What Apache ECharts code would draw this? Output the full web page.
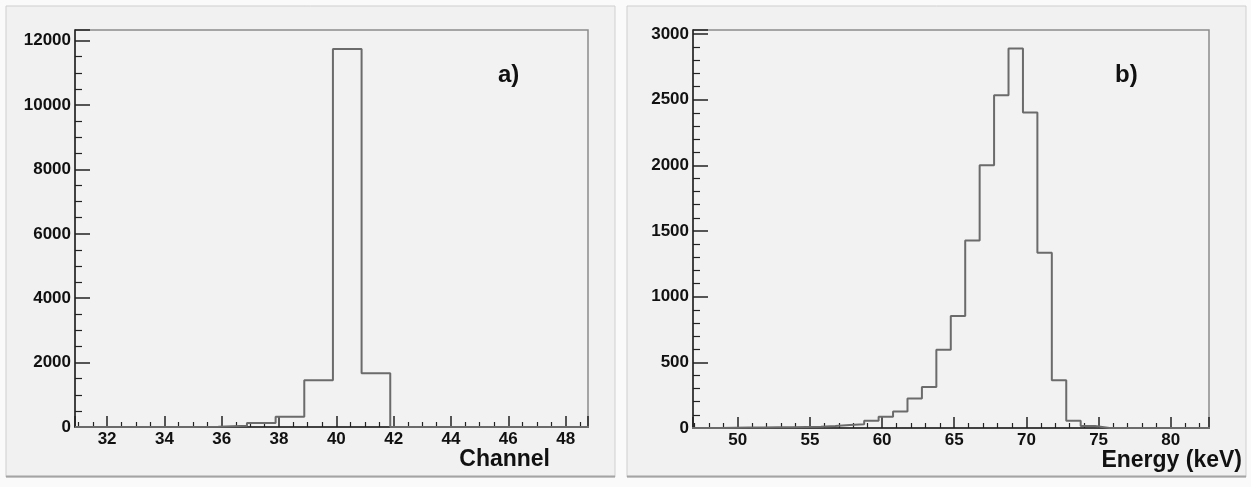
<!DOCTYPE html>
<html>
<head>
<meta charset="utf-8">
<title>Channel / Energy histograms</title>
<script src="https://cdn.jsdelivr.net/npm/echarts@6.0.0/dist/echarts.min.js"></script>
<style>
  html, body { margin: 0; padding: 0; background: #fafafa; }
  #main { width: 1251px; height: 487px; }
</style>
</head>
<body>
<div id="main"></div>
<script>
// a) counts per channel (bin low edges + last high edge)
var chanEdges = [30.88, 31.88, 32.88, 33.88, 34.88, 35.88, 36.88, 37.88, 38.88, 39.88,
  40.88, 41.88, 42.88, 43.88, 44.88, 45.88, 46.88, 47.88, 48.88];
var chanCounts = [0, 0, 0, 0, 5, 40, 125, 320, 1450, 11740, 1670, 0, 0, 0, 0, 0, 0, 0];
var chanTicks = [32, 34, 36, 38, 40, 42, 44, 46, 48];
var chanCountTicks = [0, 2000, 4000, 6000, 8000, 10000, 12000];

// b) counts per energy bin (keV)
var energyEdges = [46.76, 47.76, 48.76, 49.76, 50.76, 51.76, 52.76, 53.76, 54.76, 55.76,
  56.76, 57.76, 58.76, 59.76, 60.76, 61.76, 62.76, 63.76, 64.76, 65.76, 66.76, 67.76,
  68.76, 69.76, 70.76, 71.76, 72.76, 73.76, 74.76, 75.76, 76.76, 77.76, 78.76, 79.76,
  80.76, 81.76, 82.76];
var energyCounts = [0, 0, 2, 3, 3, 5, 6, 8, 10, 15, 22, 28, 55, 85, 125, 225, 312, 595,
  852, 1428, 2000, 2533, 2890, 2402, 1335, 363, 55, 15, 0, 0, 0, 0, 0, 0, 0, 0];
var energyTicks = [50, 55, 60, 65, 70, 75, 80];
var energyCountTicks = [0, 500, 1000, 1500, 2000, 2500, 3000];

var font = "'Liberation Sans', Arial, sans-serif";

// histogram outline as step line points
function stepData(edges, counts) {
  var d = [[edges[0], 0]];
  for (var i = 0; i < counts.length; i++) {
    d.push([edges[i], counts[i]]);
  }
  d.push([edges[counts.length], 0]);
  return d;
}

function onlyTicks(list) {
  return function (v) {
    for (var i = 0; i < list.length; i++) {
      if (Math.abs(list[i] - v) < 1e-6) return String(list[i]);
    }
    return "";
  };
}

function xAxisOf(idx, min, max, split, minorSplit, ticks, name, gap) {
  return {
    type: "value",
    gridIndex: idx,
    min: min,
    max: max,
    splitNumber: split,
    axisLine: { lineStyle: { color: "#222", width: 1.5 } },
    axisTick: { inside: true, length: 11, lineStyle: { color: "#222", width: 1.5 } },
    minorTick: { show: true, splitNumber: minorSplit, length: 5, lineStyle: { color: "#222", width: 1.2 } },
    splitLine: { show: false },
    minorSplitLine: { show: false },
    axisLabel: {
      margin: 4,
      color: "#111",
      fontSize: 17,
      fontWeight: "bold",
      fontFamily: font,
      formatter: onlyTicks(ticks),
    },
    name: name,
    nameLocation: "end",
    nameGap: gap,
    nameMoveOverlap: false,
    nameTextStyle: {
      align: "right",
      verticalAlign: "top",
      padding: [21, 0, 0, 0],
      color: "#111",
      fontSize: 23,
      fontWeight: "bold",
      fontFamily: font,
    },
  };
}

function yAxisOf(idx, max, interval, minorSplit, ticks) {
  return {
    type: "value",
    gridIndex: idx,
    min: 0,
    max: max,
    interval: interval,
    axisLine: { show: true, lineStyle: { color: "#222", width: 1.5 } },
    axisTick: { show: true, inside: true, length: 15, lineStyle: { color: "#222", width: 1.5 } },
    minorTick: { show: true, splitNumber: minorSplit, length: 7, lineStyle: { color: "#222", width: 1.2 } },
    splitLine: { show: false },
    minorSplitLine: { show: false },
    axisLabel: {
      margin: 4,
      color: "#111",
      fontSize: 17,
      fontWeight: "bold",
      fontFamily: font,
      formatter: onlyTicks(ticks),
    },
  };
}

var myChart = echarts.init(document.getElementById("main"));
var option = {
  animation: false,
  backgroundColor: "#fafafa",
  graphic: [
    // panel frames
    { type: "rect", z: -10, shape: { x: 6, y: 6, width: 609, height: 471 },
      style: { fill: "#f1f1f1", stroke: "#cfcfcf", lineWidth: 1 } },
    { type: "rect", z: -10, shape: { x: 627, y: 6, width: 619, height: 471 },
      style: { fill: "#f1f1f1", stroke: "#cfcfcf", lineWidth: 1 } },
    { type: "line", z: -9, shape: { x1: 6, y1: 476.5, x2: 615, y2: 476.5 },
      style: { stroke: "#a4a4a4", lineWidth: 2 } },
    { type: "line", z: -9, shape: { x1: 627, y1: 476.5, x2: 1246, y2: 476.5 },
      style: { stroke: "#a4a4a4", lineWidth: 2 } },
    { type: "text", z: 100, left: 498, top: 63,
      style: { text: "a)", fill: "#111", font: "bold 24px " + font } },
    { type: "text", z: 100, left: 1115, top: 63,
      style: { text: "b)", fill: "#111", font: "bold 24px " + font } },
  ],
  grid: [
    { left: 75, top: 30, width: 513, height: 397, show: true,
      backgroundColor: "#f2f2f2", borderColor: "#8c8c8c", borderWidth: 1.5 },
    { left: 693, top: 30, width: 516, height: 398, show: true,
      backgroundColor: "#f2f2f2", borderColor: "#8c8c8c", borderWidth: 1.5 },
  ],
  xAxis: [
    xAxisOf(0, 30.88, 48.78, 9, 4, chanTicks, "Channel", -38),
    xAxisOf(1, 46.9, 82.65, 7, 5, energyTicks, "Energy (keV)", 33),
  ],
  yAxis: [
    yAxisOf(0, 12330, 2000, 4, chanCountTicks),
    yAxisOf(1, 3030, 500, 5, energyCountTicks),
  ],
  series: [
    {
      name: "Channel",
      type: "line",
      xAxisIndex: 0,
      yAxisIndex: 0,
      step: "end",
      symbol: "none",
      clip: true,
      lineStyle: { color: "#6b6b6b", width: 2 },
      data: stepData(chanEdges, chanCounts),
    },
    {
      name: "Energy",
      type: "line",
      xAxisIndex: 1,
      yAxisIndex: 1,
      step: "end",
      symbol: "none",
      clip: true,
      lineStyle: { color: "#6b6b6b", width: 2 },
      data: stepData(energyEdges, energyCounts),
    },
  ],
};
myChart.setOption(option);
</script>
</body>
</html>
